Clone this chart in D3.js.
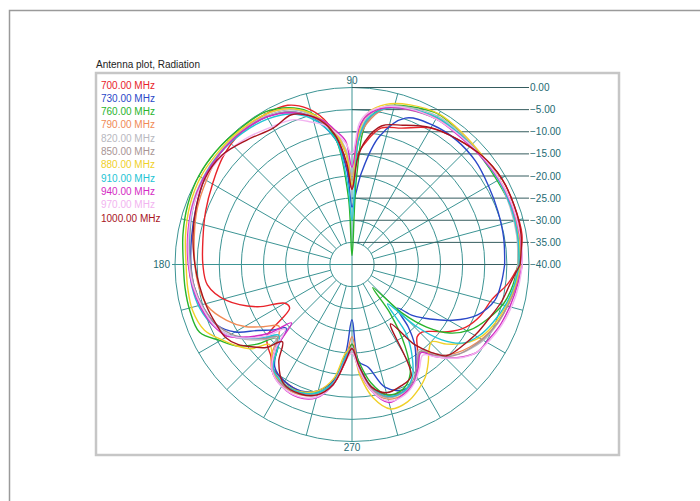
<!DOCTYPE html>
<html>
<head>
<meta charset="UTF-8" />
<title>Antenna plot</title>
<script src="https://d3js.org/d3.v7.min.js"></script>
<style>
    body { margin: 0; background: #fff; }
    text { font-family: "Liberation Sans", Arial, sans-serif; }
</style>
</head>
<body>
<div class="canvas"></div>
<script>
// angle of each sample, degrees (0 = right, counter-clockwise)
const angles = [0, 10, 20, 30, 40, 50, 60, 70, 78, 84,
    87, 90, 93, 97, 101, 106, 112, 120, 130, 140,
    150, 160, 170, 180, 188, 196, 204, 210, 215, 220,
    224, 228, 233, 240, 248, 255, 261, 266, 270, 274,
    279, 285, 292, 298, 303, 308, 312, 316, 320, 325,
    331, 338, 346, 353, 360];

// gain in dB per frequency
const s700 = [-2.2, -1.0, -1.0, -1.0, -1.8, -3.0, -4.4, -7.2, -8.5, -12.5,
    -15, -23, -18, -11, -6.5, -3.3, -1.2, -0.8, -1.0, -2.0,
    -3.6, -4.8, -5.8, -6.3, -7.0, -10.5, -16.5, -22.5, -22.8, -15,
    -13.5, -12.5, -10.5, -9.5, -9.0, -9.5, -12.5, -18, -22, -17,
    -12, -9.5, -9.0, -10, -13, -16, -18, -18, -16.5, -13.5,
    -10.7, -8.8, -7.4, -4.5, -2.2];
const s730 = [-5.5, -5.2, -4.9, -4.4, -3.6, -3.3, -3.6, -4.8, -10.5, -19,
    -24, -27, -19, -12, -8.5, -5.0, -2.8, -1.5, -1.0, -1.0,
    -1.5, -2.5, -3.2, -3.6, -4.0, -5.0, -6.5, -9.5, -14, -17,
    -19.3, -15, -11, -9.5, -9.2, -10.5, -13.5, -20, -27.5, -18,
    -16.5, -11.3, -9.4, -10, -13.5, -17, -21, -25.8, -22, -18.5,
    -14, -9.5, -6.7, -6.0, -5.5];
const s760 = [-2.5, -2.0, -1.8, -2.1, -2.0, -1.5, -0.8, -2.0, -3.5, -7.5,
    -20, -38, -25, -12, -7.5, -4.0, -1.8, -0.3, -0.2, 0,
    0, -0.5, -1.2, -1.9, -1.9, -1.9, -2.3, -5.6, -8.0, -12,
    -16, -15, -10, -8.8, -8.8, -10, -13, -19, -22, -18,
    -13, -9.5, -9.5, -12, -18, -26, -33, -24, -18, -13,
    -9.5, -7, -4.5, -3.3, -2.5];
const s790 = [-2.0, -1.8, -1.5, -1.5, -1.8, -2.0, -1.8, -2.5, -4.0, -8.0,
    -12, -20, -15, -10.5, -7.5, -4.5, -2.0, -0.8, -0.8, -1.0,
    -2.0, -2.8, -3.8, -4.5, -5.0, -6.0, -9.0, -12, -15.5, -18.4,
    -17, -13, -10, -8.5, -8.3, -9.5, -12.5, -18, -23.7, -16,
    -11, -8.5, -8.5, -10, -12.5, -15, -13, -10.5, -9, -7.5,
    -6, -4.5, -3.5, -2.5, -2.0];
const s820 = [-2.5, -2.2, -2.0, -1.8, -1.8, -1.5, -1.3, -2.2, -3.5, -6.5,
    -11, -20, -14, -10, -7.5, -4.5, -2.3, -1.2, -0.8, -0.8,
    -1.0, -1.5, -2.5, -3.2, -3.8, -4.5, -6.0, -8.0, -10.5, -13.5,
    -16, -14, -10, -8.8, -8.6, -9.6, -12.5, -19, -21, -17,
    -11.5, -8.8, -8.8, -10, -12.5, -15.5, -13, -10.5, -8.5, -7.0,
    -5.5, -4.5, -3.5, -3.0, -2.5];
const s850 = [-2.0, -1.8, -1.7, -1.6, -1.7, -1.8, -2.0, -2.8, -4.0, -7.5,
    -12, -21, -15, -10.5, -7.8, -5.0, -2.8, -1.5, -1.0, -1.0,
    -1.2, -1.8, -2.8, -3.5, -4.0, -5.0, -6.5, -8.5, -11, -14,
    -16.5, -14, -10, -8.6, -8.4, -9.4, -12.8, -18.5, -20, -16,
    -11.5, -9, -9, -10.5, -13, -15, -12.5, -10, -8.5, -7.2,
    -5.8, -4.6, -3.5, -2.6, -2.0];
const s880 = [-2.0, -1.8, -1.6, -1.5, -1.6, -1.2, -0.7, -1.6, -3.0, -5.5,
    -10, -22, -15, -10, -7.0, -4.2, -2.0, -0.8, -0.5, -0.5,
    -0.5, -1.0, -1.8, -2.5, -2.5, -2.5, -3.5, -6.0, -8.0, -10.4,
    -14, -13, -10, -9.0, -9.0, -10.5, -14, -20, -21, -15,
    -9.5, -6.2, -6.5, -8.0, -9.6, -12, -14, -14.9, -12, -9,
    -6.5, -5.0, -3.8, -2.8, -2.0];
const s910 = [-2.2, -2.0, -1.8, -1.8, -2.0, -1.8, -1.6, -2.5, -4.0, -7.0,
    -12, -30, -22, -12, -8.5, -5.5, -3.3, -2.0, -1.3, -1.0,
    -1.2, -1.8, -2.6, -3.2, -3.5, -4.2, -5.8, -8.0, -11, -14.5,
    -17, -15, -10.5, -9.0, -8.8, -10, -13, -19, -21, -17,
    -12, -9.2, -9.0, -11, -15, -20, -28, -20, -13.5, -9.1,
    -7, -5.5, -4.0, -3.0, -2.2];
const s940 = [-1.5, -1.5, -1.5, -1.6, -2.0, -2.2, -2.0, -2.7, -3.8, -6.0,
    -9, -18, -12, -9.5, -7.0, -5.0, -3.0, -1.5, -1.0, -1.0,
    -1.2, -1.6, -2.3, -3.0, -3.6, -4.5, -5.8, -7.5, -11.5, -16,
    -21, -14, -10, -8.2, -7.6, -8.8, -12.5, -18, -21, -16,
    -11, -7.7, -8.5, -10, -12.5, -14.7, -12, -9.6, -7.5, -5.5,
    -4.8, -3.8, -3.0, -2.3, -1.5];
const s970 = [-1.5, -1.4, -1.4, -1.5, -1.8, -2.0, -2.0, -2.5, -3.5, -5.5,
    -8, -15, -12.5, -10, -8, -6.5, -4.7, -4.0, -2.8, -1.8,
    -1.5, -1.8, -2.5, -3.2, -3.8, -4.8, -6.0, -8.0, -11, -15,
    -19, -14, -10, -8.2, -7.8, -9.0, -12.5, -18, -20, -16,
    -11, -8.0, -8.2, -9.8, -12, -14, -12, -9.5, -7.3, -5.5,
    -4.5, -3.5, -2.6, -2.0, -1.5];
const s1000 = [-2.0, -1.2, -1.0, -1.0, -1.7, -3.0, -4.3, -6.5, -8.0, -12,
    -16, -23, -17, -11, -7.5, -5.0, -3.5, -4.4, -3.2, -1.6,
    -1.5, -2.5, -3.5, -4.5, -5.2, -5.8, -6.5, -7.0, -8.5, -11,
    -13, -16.5, -12.5, -9.0, -8.5, -9.5, -12.5, -18, -21, -17,
    -12, -10, -10.4, -11.5, -24, -17, -13.3, -10.3, -9.5, -8.8,
    -7.8, -6.8, -5.2, -4.0, -2.0];

const freqs = ["700.00 MHz", "730.00 MHz", "760.00 MHz", "790.00 MHz", "820.00 MHz",
    "850.00 MHz", "880.00 MHz", "910.00 MHz", "940.00 MHz", "970.00 MHz", "1000.00 MHz"];
const seriesData = [s700, s730, s760, s790, s820, s850, s880, s910, s940, s970, s1000];
const colors = ["#e8232a", "#2a48c8", "#28b42c", "#f08a55", "#b8b8c0", "#a89494",
    "#f0d028", "#22c4d4", "#d42ac4", "#f2b4f0", "#a8141e"];

const dbTicks = [0, -5, -10, -15, -20, -25, -30, -35, -40];
const angleLabels = [90, 180, 270];

const width = 700;
const height = 501;
const cx = 352, cy = 264.5, R = 177;
const gridColor = "#3c9494";
const refColor = "#355c5e";
const labelColor = "#236a72";

const svg = d3.select(".canvas").append("svg")
    .attr("width", width)
    .attr("height", height);

// page frame
svg.append("path")
    .attr("d", "M9.5,501 V10.5 H700")
    .attr("fill", "none")
    .attr("stroke", "#9a9a9a")
    .attr("stroke-width", 1.5);

// plot box + title
svg.append("rect")
    .attr("x", 96).attr("y", 73)
    .attr("width", 523).attr("height", 382)
    .attr("fill", "none")
    .attr("stroke", "#c6c6c6")
    .attr("stroke-width", 2.5);

svg.append("text")
    .attr("x", 96).attr("y", 68)
    .attr("font-size", "10px")
    .attr("fill", "#222")
    .text("Antenna plot, Radiation");

const r = d3.scaleLinear().domain([-40, 0]).range([0, R]).clamp(true);
const a = d3.scaleLinear().domain([0, 360]).range([Math.PI / 2, Math.PI / 2 - 2 * Math.PI]);

const g = svg.append("g").attr("transform", `translate(${cx}, ${cy})`);

// rings
g.selectAll(".ring")
    .data(dbTicks.filter(d => d > -40))
    .enter().append("circle")
    .attr("r", d => r(d))
    .attr("fill", "none")
    .attr("stroke", gridColor)
    .attr("stroke-width", 1);

// spokes every 15 deg
const spokes = d3.range(0, 360, 15).filter(d => d % 90 !== 0);
g.selectAll(".spoke")
    .data(spokes)
    .enter().append("line")
    .attr("x1", d => r(-35) * Math.cos(d * Math.PI / 180))
    .attr("y1", d => -r(-35) * Math.sin(d * Math.PI / 180))
    .attr("x2", d => R * Math.cos(d * Math.PI / 180))
    .attr("y2", d => -R * Math.sin(d * Math.PI / 180))
    .attr("stroke", gridColor)
    .attr("stroke-width", 1);

// main axes
g.append("line").attr("x1", 0).attr("x2", 0).attr("y1", -R - 6).attr("y2", R)
    .attr("stroke", gridColor);
g.append("line").attr("x1", -R - 3).attr("x2", 0).attr("y1", 0).attr("y2", 0)
    .attr("stroke", gridColor);

// dB reference lines on the right
g.selectAll(".ref")
    .data(dbTicks)
    .enter().append("line")
    .attr("x1", 0).attr("x2", R)
    .attr("y1", d => -r(d)).attr("y2", d => -r(d))
    .attr("stroke", refColor)
    .attr("stroke-width", 1);

g.selectAll(".reflabel")
    .data(dbTicks)
    .enter().append("text")
    .attr("x", R + 1)
    .attr("y", d => -r(d))
    .attr("dy", "0.35em")
    .attr("font-size", "10px")
    .attr("fill", labelColor)
    .text(d => d3.format(".2f")(d));

// angle labels
g.selectAll(".alabel")
    .data(angleLabels)
    .enter().append("text")
    .attr("x", d => d === 180 ? -R - 5 : 0)
    .attr("y", d => d === 90 ? -R - 7 : d === 270 ? R + 6 : 0)
    .attr("dy", "0.35em")
    .attr("text-anchor", d => d === 180 ? "end" : "middle")
    .attr("font-size", "10px")
    .attr("fill", labelColor)
    .text(d => d);

// pattern curves
const line = d3.lineRadial()
    .angle((d, i) => a(angles[i]))
    .radius(d => r(d))
    .curve(d3.curveCatmullRom.alpha(0.5));

g.selectAll(".trace")
    .data(seriesData)
    .enter().append("path")
    .attr("d", d => line(d))
    .attr("fill", "none")
    .attr("stroke", (d, i) => colors[i])
    .attr("stroke-width", 1.4)
    .attr("stroke-linejoin", "round");

// legend
svg.selectAll(".legend")
    .data(freqs)
    .enter().append("text")
    .attr("x", 101)
    .attr("y", (d, i) => 85 + i * 13.3)
    .attr("dy", "0.35em")
    .attr("font-size", "10px")
    .attr("fill", (d, i) => colors[i])
    .text(d => d);
</script>
</body>
</html>
